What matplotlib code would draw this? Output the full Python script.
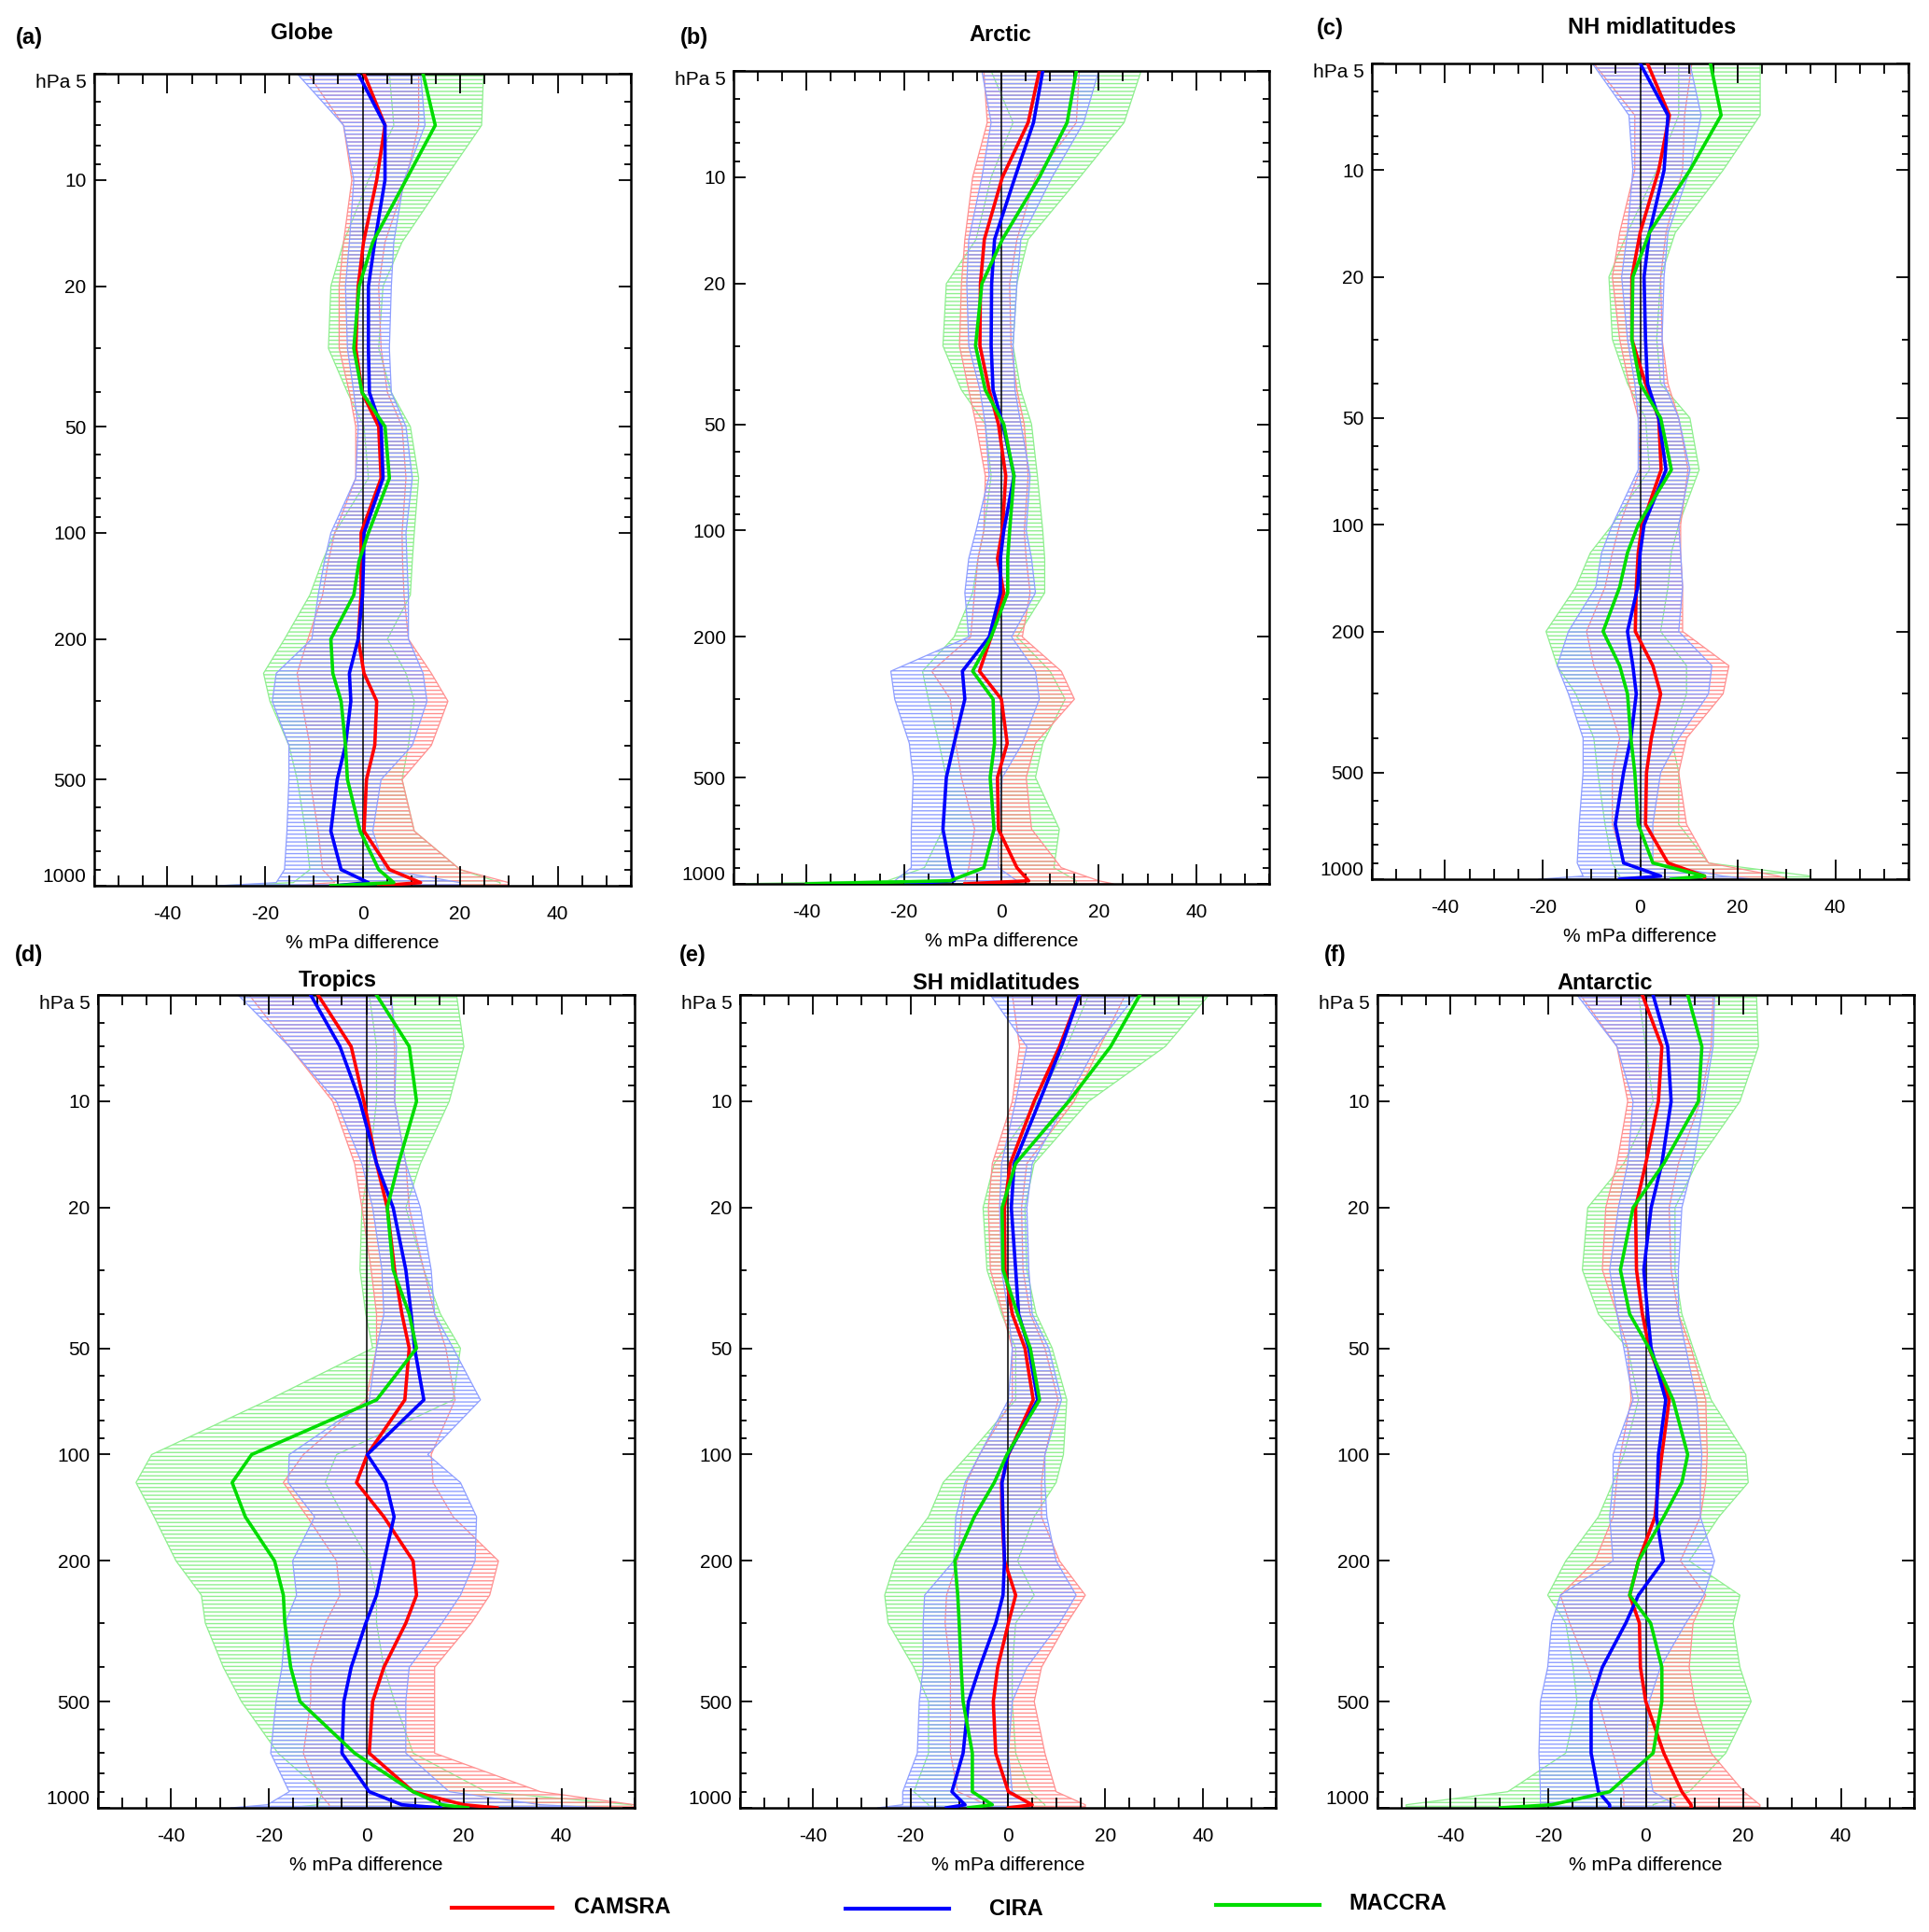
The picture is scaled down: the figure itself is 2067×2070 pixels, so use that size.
import matplotlib.pyplot as plt
from matplotlib.lines import Line2D
from matplotlib.ticker import FixedLocator, MultipleLocator, NullFormatter

# pressure levels (hPa), shared by every profile
P = [5, 7, 10, 15, 20, 30, 40, 50, 70, 100, 120, 150, 200, 250, 300, 400, 500, 700, 900, 980, 1000]

# (a) Globe
glb_cams = [0.3, 4.6, 2.9, 0.2, -0.9, -1.4, -0.1, 3.3, 3.8, -0.3, -0.3, -0.3, -0.9, 0.3, 2.9, 2.5, 0.8, 0.3, 5.5, 11.9, 3.3]
glb_cams_lo = [-11.2, -3.9, -2.2, -3.9, -4.8, -4.8, -2.7, -1.4, -1.4, -5.7, -7, -8.2, -11.2, -13.4, -12.5, -10.8, -10.8, -9.1, -8.2, -5.7, -16]
glb_cams_hi = [11.5, 11.5, 8.9, 4.6, 3.3, 3.8, 5.1, 8.1, 8.9, 8.1, 8.2, 8.5, 9.4, 14.1, 17.5, 14.1, 8.1, 10.6, 20, 30, 30]
glb_cira = [-0.9, 4.6, 4.6, 2.5, 1.2, 1.2, 1.4, 3.8, 4.2, 0.3, 0.2, 0, -0.9, -2.7, -2.4, -3.5, -5.2, -6.5, -4.4, 1.2, -5.7]
glb_cira_lo = [-13.4, -3.9, -1.8, -2.7, -3.5, -3.1, -1.8, -0.9, -1.4, -6.5, -7.8, -9.1, -10.4, -17.7, -18.5, -15.1, -15.1, -15.5, -16, -17.7, -29.7]
glb_cira_hi = [11.9, 12.8, 8.5, 6.4, 5.9, 5.5, 5.9, 8.9, 10.2, 8.9, 9.1, 9.4, 9.4, 12.4, 13.2, 10.2, 3.8, 2.1, 4.6, 20, 20]
glb_macc = [12.4, 14.9, 8.9, 2.1, -0.7, -1.8, -0.1, 4.6, 5.5, 1.2, -0.7, -1.8, -6.5, -6.1, -4.4, -3.5, -3.1, -0.5, 3.3, 6.4, -6.5]
glb_macc_lo = [5.5, 6.4, 1.2, -3.9, -6.5, -7, -3.1, 0.3, 1.2, -5.7, -8.2, -10.8, -16, -20.3, -19, -15.1, -13.4, -11.7, -10.8, -14.2, -29.7]
glb_macc_hi = [24.8, 24.4, 16.7, 8.1, 4.2, 3.3, 5.9, 9.8, 11.5, 10.6, 10.2, 9.8, 5.1, 8.9, 10.6, 9.4, 8.1, 10.6, 20, 28.2, 28.2]

# (b) Arctic
arc_cams = [7.8, 5.5, 0.2, -3.5, -4.3, -4.4, -2.5, -0.6, 0.9, 0.2, -0.8, 0.5, -2.1, -4.5, 0, 1.2, -0.8, -0.6, 3.2, 5.6, -7.5]
arc_cams_lo = [-3.6, -2.9, -5.9, -7.5, -8.2, -8.6, -6.7, -5.2, -3.3, -3.6, -4.8, -5.5, -6.3, -14.3, -10.5, -9.4, -8.2, -5.5, -6.7, -7.5, -7.5]
arc_cams_hi = [16, 15.4, 7, 3.2, 1.7, 2, 3.2, 4.7, 5.5, 4.7, 5.1, 5.9, 4.3, 12.3, 15, 7, 5.1, 6.2, 12.3, 20, 23]
arc_cira = [8.5, 6.6, 2.8, -1.4, -2, -2.1, -1.7, 0.3, 2.6, 0.5, -0.2, -0.2, -2.5, -8, -7.5, -9.7, -11.3, -12, -10.5, -9.7, -19.6]
arc_cira_lo = [-4, -2.1, -4, -6.7, -7.1, -6.7, -4.4, -3.3, -2.5, -5.2, -6.7, -7.5, -6.7, -22.7, -21.9, -18.9, -18.1, -18.5, -18.5, -21.9, -23.4]
arc_cira_hi = [20, 16.9, 10.4, 4, 3.2, 2.4, 2.8, 4, 5.9, 5.1, 6.2, 7, 2.1, 7, 7.8, 4.3, 0.2, -0.6, -0.6, 3.2, 3.2]
arc_macc = [15.4, 13.5, 7.8, 0.2, -4, -5.3, -3.3, 0.5, 2.6, 1.7, 1.3, 1.3, -2.1, -5.9, -1.7, -1.4, -2.3, -1.5, -3.6, -10.5, -40]
arc_macc_lo = [-2.1, 2.4, -2.1, -5.2, -11.3, -12, -8.2, -3.3, -2.1, -3.6, -4.8, -5.9, -9.7, -16.2, -15, -12.8, -11.3, -12, -15.8, -23.4, -55]
arc_macc_hi = [28.7, 25.2, 16.1, 5.5, 3.2, 2.4, 4, 6.2, 7.4, 8.5, 8.9, 8.9, 3.2, 10, 13.1, 8.5, 7, 11.9, 10.8, 15.4, 15.4]

# (c) NH midlatitudes
nhm_cams = [1.5, 6, 3.8, 0, -1.7, -1.7, 1.1, 3.8, 4.3, 0.4, -0.4, -0.8, -1, 2.6, 4.2, 2.3, 1.3, 1.1, 5.7, 13.2, 13.2]
nhm_cams_lo = [-9.5, -1.1, -1.1, -4.2, -5.7, -4.2, -2.3, -0.4, 0, -4.2, -5.7, -7.2, -11, -9.5, -7.2, -4.2, -5.7, -5.7, -3.4, 3.4, 3.4]
nhm_cams_hi = [10.6, 9.1, 8.7, 5.3, 4.2, 4.5, 5.7, 7.9, 9.8, 8.3, 8.3, 8.7, 8.7, 18.2, 17, 9.5, 7.9, 9.5, 14, 28.4, 30.3]
nhm_cira = [0, 5.7, 4.9, 1.9, 0.8, 1.1, 1.5, 3.8, 5.3, 0.8, 0, -0.5, -2.6, -1.5, -0.8, -1.9, -3.4, -5.1, -3.4, 4.2, -4.2]
nhm_cira_lo = [-9.8, -2.3, -1.5, -2.6, -3.8, -2.6, -1.1, -0.4, -0.4, -5.7, -7.9, -9.1, -14.7, -17, -14.7, -11.7, -11.7, -12.5, -12.9, -11.7, -20.8]
nhm_cira_hi = [10.2, 12.5, 10.2, 5.7, 4.9, 4.5, 4.9, 7.9, 10.2, 7.9, 8.3, 8.7, 7.9, 14.7, 14, 7.9, 4.2, 2.6, 2.6, 17, 23.1]
nhm_macc = [14.4, 16.6, 10.2, 1.9, -1.5, -1.7, 0, 4.2, 6.4, -0.4, -2.6, -4.2, -7.6, -4.2, -2.6, -1.9, -1.1, -0.4, 2.6, 13.2, 6.4]
nhm_macc_lo = [7.9, 7.9, 3.4, -2.6, -6.4, -5.7, -2.6, 1.1, 1.9, -5.7, -10.2, -13.2, -19.3, -17, -13.2, -9.5, -8.7, -7.2, -5.7, -4.2, -4.2]
nhm_macc_hi = [24.6, 24.6, 17, 7.2, 4.2, 3.4, 4.2, 10.2, 12.1, 7.9, 6.4, 5.7, 4.2, 9.5, 9.5, 6.4, 7.9, 7.9, 14, 35, 35]

# (d) Tropics
trp_cams = [-9.9, -3.1, -0.5, 2.1, 4.3, 5.8, 7.3, 8.8, 7.9, 0.2, -2.0, 3.6, 9.6, 10.3, 8.1, 3.6, 1.3, 0.6, 9.6, 20, 26.8]
trp_cams_lo = [-24, -15.8, -6.9, -2.4, -0.9, 1, 2.1, 2.1, -0.1, -12.9, -17, -12.1, -6.1, -5.4, -8.4, -11.4, -11.4, -12.9, -9.9, -7.6, -7.6]
trp_cams_hi = [5.1, 5.8, 5.8, 8.1, 8.8, 11.8, 14, 16.3, 18.2, 13.3, 13.7, 17.8, 27.1, 25.3, 21.5, 14, 14, 14, 35.7, 55, 55]
trp_cira = [-11.4, -5.4, -1.3, 2.1, 5.5, 8.1, 9.2, 9.9, 11.8, 0.2, 4, 5.7, 3.6, 2.1, -0.1, -3.1, -4.6, -5, 0.6, 7.3, 15.2]
trp_cira_lo = [-26.3, -15.8, -6.1, -0.9, 1.3, 3.2, 3.6, 2.1, 0.6, -15.8, -16, -10.6, -15.1, -14.3, -16.6, -17.3, -18.5, -19.6, -15.8, -20.3, -27.8]
trp_cira_hi = [5.1, 6.2, 5.8, 8.1, 11.1, 13.3, 14, 17.8, 23.4, 12.6, 19.3, 22.6, 22.3, 19.3, 15.5, 8.8, 8.1, 8.1, 17, 35.7, 48.4]
trp_macc = [2.1, 8.8, 10.3, 6.6, 4.3, 5.5, 8.8, 10.3, 2.1, -23.5, -27.5, -24.8, -18.8, -17, -16.7, -15.5, -13.6, -2.4, 9.6, 15.5, 20.8]
trp_macc_lo = [0.6, 2.1, 2.1, 0.6, -0.9, -1.3, -0.1, 1.3, -20, -44, -47.2, -43.5, -39, -33.8, -33, -29.3, -25.6, -18.1, -9.1, -9.9, -15.8]
trp_macc_hi = [18.5, 20, 17, 11.1, 8.1, 11.8, 15.2, 19.3, 17.8, -6.1, -8.4, -4.6, 0.6, 2.1, 2.1, 3.6, 5.8, 9.6, 24.5, 54.4, 54.4]

# (e) SH midlatitudes
shm_cams = [14.7, 10.6, 5.4, 0.5, -0.7, -0.6, 0.9, 3.5, 5.2, 0.1, -1.3, -1.2, -0.7, 1.6, 0.1, -2.1, -3, -2.5, 0.1, 5, 0.1]
shm_cams_lo = [0.9, 2.4, 0.9, -3.2, -4, -3.6, -1, 0.9, 0.9, -5.8, -8.5, -9.6, -10.3, -12.6, -12.9, -11.8, -11.8, -11.8, -10.3, -4.3, -4.3]
shm_cams_hi = [24.1, 18.9, 13.6, 3.9, 2.8, 3.1, 4.6, 7.6, 10.3, 7.6, 6.9, 6.9, 10.6, 15.9, 12.1, 6.9, 5.4, 7.6, 9.9, 15.9, 15.9]
shm_cira = [14.7, 11, 6.5, 1.3, 0.7, 1.6, 2.2, 4.3, 6.1, 0, -1.2, -1, -0.7, -1, -2.5, -5.8, -8.1, -9.2, -11.5, -8.8, -12.6]
shm_cira_lo = [-3.6, 3.9, 1.6, -1.3, -1.7, -1.3, 0.1, 0.9, 0.1, -5.8, -8.8, -10.7, -11.1, -17.1, -17.4, -17.4, -18.2, -18.6, -21.6, -21.6, -26.8]
shm_cira_hi = [26.3, 18.1, 12.1, 5, 3.9, 4.3, 5, 8.4, 11, 7.6, 7.6, 8, 9.9, 14, 10.6, 3.9, 0.9, 0.1, 0.9, 4.6, 4.6]
shm_macc = [27.1, 21.1, 12.5, 1.6, -1.2, -1, 2, 4.6, 6.5, -0.2, -2.8, -6.9, -10.9, -10.3, -10, -9.6, -9.2, -7.3, -7.3, -3.2, -8.1]
shm_macc_lo = [16.6, 12.1, 6.1, -2.8, -5.1, -4.3, -1.3, 1.6, 1.6, -8.1, -13.3, -16.3, -23.1, -25.3, -24.6, -19.3, -16.3, -16.3, -19.3, -16.3, -16.3]
shm_macc_hi = [41.3, 32.3, 16.6, 5.4, 3.5, 3.9, 5.8, 9.1, 12.1, 11.4, 9.9, 5.4, 2.0, 5.4, 1.6, 0.9, 0.9, 1.6, 4.6, 7.6, 7.6]

# (f) Antarctic
ant_cams = [-0.7, 3.3, 2.6, 0, -2.1, -1.9, -0.7, 0.7, 4.8, 3.3, 2.6, 1.9, -1.5, -3.3, -1.3, -1.1, 0, 3.7, 7.4, 9.3, 9.3]
ant_cams_lo = [-13.4, -5.9, -3.7, -5.9, -8.2, -8.9, -5.9, -3.7, -3, -5.2, -6, -6.7, -10.4, -17.5, -15.6, -11.9, -9.7, -6.7, -4.5, -4.5, -4.5]
ant_cams_hi = [13.8, 13.4, 11.2, 6.7, 4.8, 5.2, 6.7, 9.3, 12.3, 12.6, 12.3, 11.2, 7.1, 12.3, 9.7, 8.9, 10, 13.4, 20.1, 23.4, 23.4]
ant_cira = [1.5, 4.5, 5.2, 3.3, 1.1, -0.4, 0.4, 1.1, 4.1, 2.6, 2.4, 2.2, 3.6, -1.5, -4.1, -8.9, -11.2, -11.2, -9.7, -7.4, -7.4]
ant_cira_lo = [-14.1, -5.9, -2.6, -3.7, -5.6, -7.4, -5.9, -4.5, -2.6, -6.7, -6.7, -7.4, -6.7, -17.5, -19.3, -20.1, -21.6, -21.9, -21.6, -21.6, -21.6]
ant_cira_hi = [14.1, 13.8, 11.9, 9.7, 7.4, 6.7, 6.7, 8.2, 10.4, 11.5, 11.2, 11.2, 14.1, 11.9, 8.2, 3, 0.7, 0, 1.5, 6, 6]
ant_macc = [8.6, 11.5, 10.8, 3.7, -2.6, -5.2, -3.3, 0.7, 5.6, 8.6, 7.4, 3.7, -1.5, -3.3, 1.0, 3.3, 3.3, 1.5, -7.4, -19.3, -29.8]
ant_macc_lo = [-1.5, 0, 1.5, -4.5, -11.9, -13, -9.7, -3.7, -1.5, -4.5, -6.7, -9.7, -16.4, -20.1, -16.4, -14.9, -14.1, -16.4, -28.3, -49.1, -49.1]
ant_macc_hi = [22.7, 23.1, 19.3, 10.4, 6, 6, 7.4, 9.7, 13.4, 20.5, 21.0, 15, 8.9, 19.3, 17.9, 19.3, 21.6, 16.4, 8.9, 1.5, 1.5]

names = ['CAMSRA', 'CIRA', 'MACCRA']
titles = ['Globe', 'Arctic', 'NH midlatitudes', 'Tropics', 'SH midlatitudes', 'Antarctic']
letters = ['(a)', '(b)', '(c)', '(d)', '(e)', '(f)']

panels = [
    [(glb_cams, glb_cams_lo, glb_cams_hi), (glb_cira, glb_cira_lo, glb_cira_hi), (glb_macc, glb_macc_lo, glb_macc_hi)],
    [(arc_cams, arc_cams_lo, arc_cams_hi), (arc_cira, arc_cira_lo, arc_cira_hi), (arc_macc, arc_macc_lo, arc_macc_hi)],
    [(nhm_cams, nhm_cams_lo, nhm_cams_hi), (nhm_cira, nhm_cira_lo, nhm_cira_hi), (nhm_macc, nhm_macc_lo, nhm_macc_hi)],
    [(trp_cams, trp_cams_lo, trp_cams_hi), (trp_cira, trp_cira_lo, trp_cira_hi), (trp_macc, trp_macc_lo, trp_macc_hi)],
    [(shm_cams, shm_cams_lo, shm_cams_hi), (shm_cira, shm_cira_lo, shm_cira_hi), (shm_macc, shm_macc_lo, shm_macc_hi)],
    [(ant_cams, ant_cams_lo, ant_cams_hi), (ant_cira, ant_cira_lo, ant_cira_hi), (ant_macc, ant_macc_lo, ant_macc_hi)],
]

# layout in pixels of the 2067x2070 picture: axes box (left, top, right, bottom),
# title centre, panel letter centre
W, H = 2067, 2070
boxes = [(101, 79, 676, 949), (786, 76, 1360, 947), (1470, 68, 2045, 942),
         (105, 1066, 680, 1937), (793, 1066, 1367, 1937), (1476, 1066, 2051, 1937)]
title_xy = [(323, 35), (1072, 38), (1770, 29), (362, 1051), (1067, 1053), (1720, 1053)]
letter_xy = [(31, 40), (744, 40), (1425, 30), (31, 1024), (742, 1024), (1431, 1024)]

line_col = ['#ff0000', '#0000ff', '#00dd00']
band_col = ['#ff9090', '#8f9fff', '#8fef8f']
band_order = [2, 0, 1]

plt.rcParams['font.family'] = ['Liberation Sans', 'DejaVu Sans']
plt.rcParams['hatch.linewidth'] = 1.0

fig = plt.figure(figsize=(W / 100, H / 100), dpi=100)

for k in range(6):
    l, t, r, b = boxes[k]
    ax = fig.add_axes([l / W, 1 - b / H, (r - l) / W, (b - t) / H])
    ax.set_yscale('log')

    for i in band_order:
        mean, lo, hi = panels[k][i]
        ax.fill_betweenx(P, lo, hi, facecolor='none', edgecolor=band_col[i],
                         hatch='----', linewidth=0.9, zorder=1)
    ax.axvline(0, color='black', lw=1.1, zorder=2)
    for i in range(3):
        mean = panels[k][i][0]
        ax.plot(mean, P, color=line_col[i], lw=2.6, zorder=3)

    ax.set_xlim(-55, 55)
    ax.set_ylim(1000, 5)

    ax.set_xticks([-40, -20, 0, 20, 40])
    ax.set_xticklabels(['-40', '-20', '0', '20', '40'])
    ax.xaxis.set_minor_locator(MultipleLocator(5))
    ax.set_yticks([5, 10, 20, 50, 100, 200, 500, 1000])
    ax.set_yticklabels(['hPa 5', '10', '20', '50', '100', '200', '500', '1000'])
    ax.yaxis.set_minor_locator(FixedLocator([6, 7, 8, 9, 30, 40, 60, 70, 80, 90,
                                             300, 400, 600, 700, 800, 900]))
    ax.yaxis.set_minor_formatter(NullFormatter())

    ax.tick_params(axis='x', which='major', direction='in', length=15, width=1.3,
                   top=True, bottom=True, labelsize=15, pad=15)
    ax.tick_params(axis='x', which='minor', direction='in', length=8, width=1.3,
                   top=True, bottom=True)
    ax.tick_params(axis='y', which='major', direction='in', length=9.5, width=1.3,
                   left=True, right=True, labelsize=15, pad=6)
    ax.tick_params(axis='y', which='minor', direction='in', length=5, width=1.3,
                   left=True, right=True)
    ylab = ax.get_yticklabels()
    ylab[0].set_va('top')
    ylab[-1].set_va('bottom')
    for s in ax.spines.values():
        s.set_linewidth(1.8)

    ax.set_xlabel('% mPa difference', fontsize=15, labelpad=9)

    fig.text(title_xy[k][0] / W, 1 - title_xy[k][1] / H, titles[k], fontsize=17,
             fontweight='bold', ha='center', va='center')
    fig.text(letter_xy[k][0] / W, 1 - letter_xy[k][1] / H, letters[k], fontsize=17,
             fontweight='bold', ha='center', va='center')

# legend along the bottom
leg_line = [(484, 592, 2044), (906, 1017, 2045), (1303, 1414, 2041)]
leg_text = [(615, 2043), (1060, 2045), (1445, 2039)]
for i in range(3):
    x0, x1, y = leg_line[i]
    fig.add_artist(Line2D([x0 / W, x1 / W], [1 - y / H, 1 - y / H],
                          transform=fig.transFigure, color=line_col[i], lw=3))
    fig.text(leg_text[i][0] / W, 1 - leg_text[i][1] / H, names[i], fontsize=17,
             fontweight='bold', ha='left', va='center')

fig.savefig('out.png', dpi=100)
